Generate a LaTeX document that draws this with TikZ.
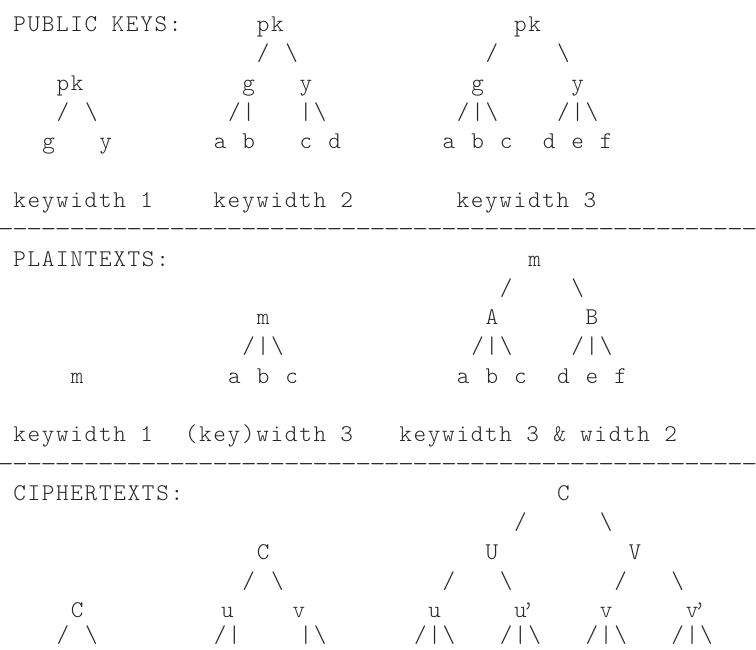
\documentclass[tikz,border=0pt]{standalone}
\usepackage{fontspec}
\setmonofont{lmmonolt10-regular.otf}[LetterSpace=7.1]
\newcommand{\bksl}{\textbackslash}
\newcommand{\prm}{\rlap{\kern-2.5pt ’}}
\tikzset{
  asc/.style={anchor=base, inner sep=0pt, text=black!85,
    font=\ttfamily\fontsize{12}{14}\selectfont},
  word/.style={asc, anchor=base west},
}
\begin{document}
\begin{tikzpicture}[x=7.15pt, y=-14.65pt]
\useasboundingbox (-1.3986,-1.082) rectangle (51.47,21.07);

% public keys
\node[word] (pubhead) at (-0.5,0) {PUBLIC KEYS:};
\foreach \c/\r/\t [count=\i] in {17.5/0/pk, 35.5/0/pk, 17/1/{/}, 19/1/\bksl, 33/1/{/}, 38/1/\bksl,
    3.5/2/pk, 16/2/g, 20/2/y, 32/2/g, 39/2/y,
    3/3/{/}, 5/3/\bksl, 15/3/{/}, 16/3/|, 20/3/|, 21/3/\bksl,
    31/3/{/}, 32/3/|, 33/3/\bksl, 38/3/{/}, 39/3/|, 40/3/\bksl,
    2/4/g, 6/4/y, 14/4/a, 16/4/b, 20/4/c, 22/4/d,
    30/4/a, 32/4/b, 34/4/c, 37/4/d, 39/4/e, 41/4/f}
  \node[asc] (pk\i) at (\c,\r) {\t};
\node[word] (kwa) at (-0.5,6) {keywidth 1};
\node[word] (kwb) at (13.5,6) {keywidth 2};
\node[word] (kwc) at (30.5,6) {keywidth 3};
\foreach \c in {-1,...,51} \node[asc, xscale=1.3] (dasha\c) at (\c,7) {-};

% plaintexts
\node[word] (plainhead) at (-0.5,8) {PLAINTEXTS:};
\foreach \c/\r/\t [count=\i] in {36/8/m, 34/9/{/}, 39/9/\bksl,
    17/10/m, 33/10/A, 40/10/B,
    16/11/{/}, 17/11/|, 18/11/\bksl, 32/11/{/}, 33/11/|, 34/11/\bksl, 39/11/{/}, 40/11/|, 41/11/\bksl,
    4/12/m, 15/12/a, 17/12/b, 19/12/c, 31/12/a, 33/12/b, 35/12/c, 38/12/d, 40/12/e, 42/12/f}
  \node[asc] (pt\i) at (\c,\r) {\t};
\node[word] (kwd) at (-0.5,14) {keywidth 1};
\node[word] (kwe) at (11.5,14) {(key)width 3};
\node[word] (kwf) at (26.5,14) {keywidth 3 \& width 2};
\foreach \c in {-1,...,51} \node[asc, xscale=1.3] (dashb\c) at (\c,15) {-};

% ciphertexts
\node[word] (ciphead) at (-0.5,16) {CIPHERTEXTS:};
\foreach \c/\r/\t [count=\i] in {38/16/C, 35/17/{/}, 41/17/\bksl,
    17/18/C, 33/18/U, 43/18/V,
    16/19/{/}, 18/19/\bksl, 30/19/{/}, 34/19/\bksl, 42/19/{/}, 46/19/\bksl,
    4/20/C, 14.5/20/u, 19.5/20/v, 29/20/u, 35/20/{u\prm}, 41/20/v, 47/20/{v\prm},
    3/20.85/{/}, 5/20.85/\bksl, 14/20.85/{/}, 15/20.85/|, 20/20.85/|, 21/20.85/\bksl,
    28/20.85/{/}, 29/20.85/|, 30/20.85/\bksl, 34/20.85/{/}, 35/20.85/|, 36/20.85/\bksl,
    40/20.85/{/}, 41/20.85/|, 42/20.85/\bksl, 46/20.85/{/}, 47/20.85/|, 48/20.85/\bksl}
  \node[asc] (ct\i) at (\c,\r) {\t};
\end{tikzpicture}
\end{document}
